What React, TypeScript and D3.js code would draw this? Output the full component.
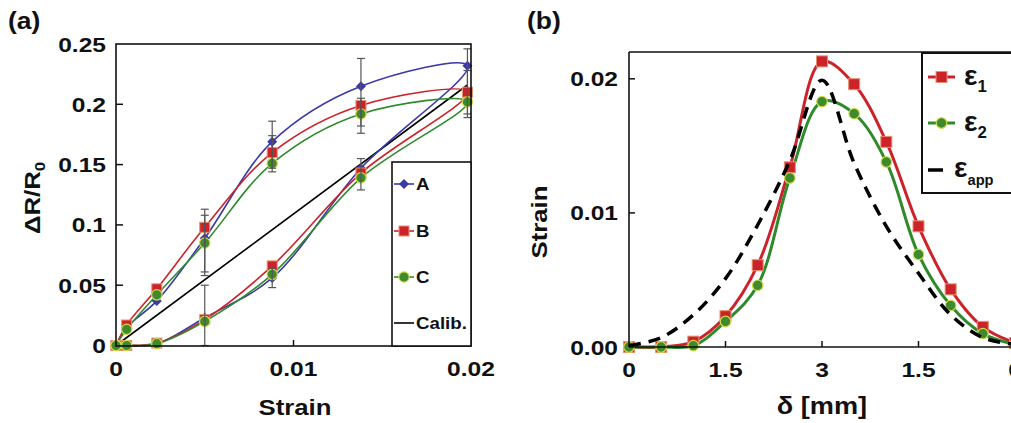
import React from "react";
import * as d3 from "d3";

// ---------- Panel (a) data ----------
const strainUp = [0, 0.0006, 0.0023, 0.005, 0.0088, 0.0138, 0.0198];
const strainDown = [0.0138, 0.0088, 0.005, 0.0023, 0.0006, 0];
const aUp = [0, 0.015, 0.037, 0.089, 0.169, 0.215, 0.232];
const aDown = [0.147, 0.056, 0.023, 0.0014, 0, 0];
const bUp = [0, 0.017, 0.047, 0.098, 0.16, 0.199, 0.21];
const bDown = [0.143, 0.066, 0.0215, 0.002, 0, 0];
const cUp = [0, 0.0134, 0.042, 0.085, 0.151, 0.192, 0.202];
const cDown = [0.139, 0.059, 0.02, 0.0015, 0, 0];
const calibX = [0, 0.0198];
const calibY = [0, 0.216];
const errX = [0.005, 0.005, 0.005, 0.0088, 0.0088, 0.0088, 0.0138, 0.0138, 0.0138, 0.0198, 0.0198];
const errLo = [0.058, 0.061, 0, 0.144, 0.147, 0.048, 0.176, 0.182, 0.129, 0.189, 0.192];
const errHi = [0.113, 0.108, 0.05, 0.186, 0.174, 0.064, 0.238, 0.205, 0.155, 0.246, 0.228];
const aXTicks = [0, 0.01, 0.02];
const aXTickLabels = ["0", "0.01", "0.02"];
const aYTicks = [0, 0.05, 0.1, 0.15, 0.2, 0.25];
const aYTickLabels = ["0", "0.05", "0.1", "0.15", "0.2", "0.25"];
const aLegend = ["A", "B", "C", "Calib."];

// ---------- Panel (b) data ----------
const delta = [0, 0.5, 1, 1.5, 2, 2.5, 3, 3.5, 4, 4.5, 5, 5.5, 6];
const eps1 = [0, 0, 0.0004, 0.0023, 0.0061, 0.0134, 0.0213, 0.0196, 0.0153, 0.009, 0.0043, 0.0015, 0.0003];
const eps2 = [0, 0, 0.0001, 0.0019, 0.0046, 0.0126, 0.0183, 0.0174, 0.0138, 0.0069, 0.0031, 0.001, 0.0002];
const epsApp = [0.0001, 0.0007, 0.0024, 0.0051, 0.0091, 0.0139, 0.0199, 0.0137, 0.009, 0.0055, 0.0024, 0.0007, 0.0002];
const bXTicks = [0, 1.5, 3, 4.5, 6];
const bXTickLabels = ["0", "1.5", "3", "1.5", "0"];
const bYTicks = [0, 0.01, 0.02];
const bYTickLabels = ["0.00", "0.01", "0.02"];

const FONT = "'Liberation Sans', Arial, Helvetica, sans-serif";
const BLUE = "#3a3aa6";
const RED = "#cc2229";
const GREEN = "#2f8a2c";
const GREEN_FILL = "#3f8a2e";
const GREEN_EDGE = "#d4dc4c";
const RED_EDGE = "#e89070";
const INK = "#111";

type TP = {
  x: number; y: number; size: number; anchor?: string; rot?: number; sx?: number;
  children: React.ReactNode;
};
function T({ x, y, size, anchor = "middle", rot = 0, sx = 1.17, children }: TP) {
  return (
    <text
      transform={`translate(${x},${y}) rotate(${rot}) scale(${sx},1)`}
      fontSize={size}
      fontWeight="bold"
      fontFamily={FONT}
      textAnchor={anchor}
      fill={INK}
    >
      {children}
    </text>
  );
}

function Diamond({ x, y, s = 5 }: { x: number; y: number; s?: number }) {
  return <path d={`M${x},${y - s}L${x + s},${y}L${x},${y + s}L${x - s},${y}Z`} fill={BLUE} />;
}
function Square({ x, y, s = 5 }: { x: number; y: number; s?: number }) {
  return <rect x={x - s} y={y - s} width={2 * s} height={2 * s} fill={RED} stroke={RED_EDGE} strokeWidth={1} />;
}
function Dot({ x, y, r = 5 }: { x: number; y: number; r?: number }) {
  return <circle cx={x} cy={y} r={r} fill={GREEN_FILL} stroke={GREEN_EDGE} strokeWidth={1.2} />;
}

export default function App() {
  // ---- panel (a) scales
  const ax = d3.scaleLinear().domain([0, 0.02]).range([116, 471]);
  const ay = d3.scaleLinear().domain([0, 0.25]).range([345.5, 44]);
  const aLine = d3
    .line<[number, number]>()
    .x((d) => ax(d[0]))
    .y((d) => ay(d[1]))
    .curve(d3.curveCatmullRom.alpha(0.5));
  const loop = (up: number[], down: number[]): [number, number][] => [
    ...strainUp.map((s, i) => [s, up[i]] as [number, number]),
    ...strainDown.map((s, i) => [s, down[i]] as [number, number]),
  ];
  const aSeries = [
    { pts: loop(aUp, aDown), color: BLUE, kind: "d" },
    { pts: loop(bUp, bDown), color: RED, kind: "s" },
    { pts: loop(cUp, cDown), color: GREEN, kind: "c" },
  ];

  // ---- panel (b) scales
  const bx = d3.scaleLinear().domain([0, 6]).range([629, 1015]);
  const by = d3.scaleLinear().domain([0, 0.022]).range([347, 52]);
  const bLine = d3
    .line<number>()
    .x((_, i) => bx(delta[i]))
    .y((d) => by(d))
    .curve(d3.curveCatmullRom.alpha(0.5));

  const marker = (kind: string, x: number, y: number, key: string | number, big = false) =>
    kind === "d" ? (
      <Diamond key={key} x={x} y={y} s={5} />
    ) : kind === "s" ? (
      <Square key={key} x={x} y={y} s={big ? 5.5 : 5} />
    ) : (
      <Dot key={key} x={x} y={y} r={big ? 5.3 : 5.2} />
    );

  const legA = [
    { label: aLegend[0], color: BLUE, kind: "d", y: 184 },
    { label: aLegend[1], color: RED, kind: "s", y: 231 },
    { label: aLegend[2], color: GREEN, kind: "c", y: 277 },
    { label: aLegend[3], color: "#000", kind: "l", y: 323 },
  ];

  return (
    <svg
      width={1011}
      height={423}
      style={{ position: "absolute", left: 0, top: 0, background: "#fff" }}
    >
      <rect x={0} y={0} width={1011} height={423} fill="#fff" />

      {/* ================= Panel (a) ================= */}
      <T x={8} y={29} size={23} anchor="start" sx={1.15}>(a)</T>

      <line
        x1={ax(calibX[0])} y1={ay(calibY[0])}
        x2={ax(calibX[1])} y2={ay(calibY[1])}
        stroke="#000" strokeWidth={1.6}
      />
      {aSeries.map((s, i) => (
        <path key={i} d={aLine(s.pts) || ""} fill="none" stroke={s.color} strokeWidth={1.6} />
      ))}
      {aSeries.map((s, i) => (
        <g key={"m" + i}>{s.pts.map((p, j) => marker(s.kind, ax(p[0]), ay(p[1]), j))}</g>
      ))}
      <g stroke="#555" strokeWidth={1.2}>
        {errX.map((x, i) => (
          <g key={i}>
            <line x1={ax(x)} x2={ax(x)} y1={ay(errLo[i])} y2={ay(errHi[i])} />
            <line x1={ax(x) - 4} x2={ax(x) + 4} y1={ay(errLo[i])} y2={ay(errLo[i])} />
            <line x1={ax(x) - 4} x2={ax(x) + 4} y1={ay(errHi[i])} y2={ay(errHi[i])} />
          </g>
        ))}
      </g>

      <rect x={116} y={44} width={355} height={302} fill="none" stroke={INK} strokeWidth={1.6} />
      {aYTicks.slice(1, 5).map((t) => (
        <line key={t} x1={116} x2={123} y1={ay(t)} y2={ay(t)} stroke={INK} strokeWidth={1.5} />
      ))}
      {aXTicks.slice(1, 2).map((t) => (
        <line key={t} x1={ax(t)} x2={ax(t)} y1={346} y2={340} stroke={INK} strokeWidth={1.5} />
      ))}
      {aYTicks.map((t, i) => (
        <T key={t} x={106} y={ay(t) + 7.5} size={21} anchor="end">{aYTickLabels[i]}</T>
      ))}
      {aXTicks.map((t, i) => (
        <T key={t} x={ax(t)} y={376} size={21}>{aXTickLabels[i]}</T>
      ))}
      <T x={295} y={415} size={23} sx={1.12}>Strain</T>
      <T x={40} y={198} size={23} rot={-90} sx={1.12}>
        ΔR/R<tspan fontSize={15} dy={5}>0</tspan>
      </T>

      <rect x={392} y={162} width={79} height={184} fill="#fff" stroke={INK} strokeWidth={1.6} />
      {legA.map((l, i) => (
        <g key={i}>
          <line x1={394} x2={414} y1={l.y} y2={l.y} stroke={l.color} strokeWidth={1.6} />
          {l.kind !== "l" && marker(l.kind, 404, l.y, "lm")}
          <T x={416} y={l.y + 6} size={16} anchor="start">{l.label}</T>
        </g>
      ))}

      {/* ================= Panel (b) ================= */}
      <T x={527} y={29} size={23} anchor="start" sx={1.15}>(b)</T>

      <path d={bLine(eps1) || ""} fill="none" stroke={RED} strokeWidth={3} />
      <path d={bLine(eps2) || ""} fill="none" stroke={GREEN} strokeWidth={3} />
      {eps1.map((v, i) => marker("s", bx(delta[i]), by(v), "e1" + i, true))}
      {eps2.map((v, i) => marker("c", bx(delta[i]), by(v), "e2" + i, true))}
      <path
        d={bLine(epsApp) || ""}
        fill="none"
        stroke="#000"
        strokeWidth={3.5}
        strokeDasharray="12 8"
      />

      <line x1={629} x2={629} y1={52} y2={347} stroke={INK} strokeWidth={1.6} />
      <line x1={629} x2={1015} y1={52} y2={52} stroke={INK} strokeWidth={1.6} />
      <line x1={629} x2={1015} y1={347} y2={347} stroke={INK} strokeWidth={1.6} />
      <line x1={1015} x2={1015} y1={52} y2={347} stroke={INK} strokeWidth={1.6} />
      {bYTicks.slice(1).map((t) => (
        <line key={t} x1={629} x2={635} y1={by(t)} y2={by(t)} stroke={INK} strokeWidth={1.5} />
      ))}
      {bXTicks.slice(1, 4).map((t) => (
        <line key={t} x1={bx(t)} x2={bx(t)} y1={347} y2={341} stroke={INK} strokeWidth={1.5} />
      ))}
      {bYTicks.map((t, i) => (
        <T key={t} x={618} y={by(t) + 7.5} size={21} anchor="end">{bYTickLabels[i]}</T>
      ))}
      {bXTicks.map((t, i) => (
        <T key={t} x={bx(t)} y={377} size={21}>{bXTickLabels[i]}</T>
      ))}
      <T x={822} y={414} size={23} sx={1.18}>δ [mm]</T>
      <T x={547} y={222} size={23} rot={-90} sx={1.12}>Strain</T>

      <rect x={922} y={53} width={100} height={140} fill="#fff" stroke={INK} strokeWidth={2} />
      <line x1={928} x2={955} y1={77} y2={77} stroke={RED} strokeWidth={3} />
      {marker("s", 941.5, 77, "lb1", true)}
      <line x1={928} x2={955} y1={123} y2={123} stroke={GREEN} strokeWidth={3} />
      {marker("c", 941.5, 123, "lb2", true)}
      <line x1={928} x2={943} y1={170} y2={170} stroke="#000" strokeWidth={3.5} />
      <T x={964} y={85} size={27} anchor="start" sx={1.05}>
        ε<tspan fontSize={16} dy={7}>1</tspan>
      </T>
      <T x={964} y={131} size={27} anchor="start" sx={1.05}>
        ε<tspan fontSize={16} dy={7}>2</tspan>
      </T>
      <T x={954} y={177} size={27} anchor="start" sx={1.05}>
        ε<tspan fontSize={14} dy={8}>app</tspan>
      </T>
    </svg>
  );
}
